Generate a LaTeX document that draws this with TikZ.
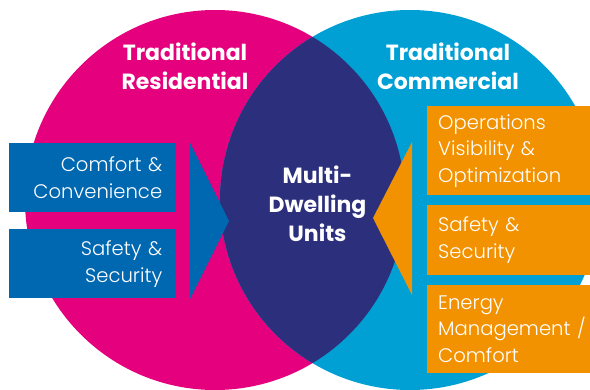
\documentclass[tikz,border=0pt]{standalone}
\usepackage{fontspec}
\setmainfont{Poppins}
\newfontfamily\lightfont{Poppins Light}
\definecolor{respink}{HTML}{E5007D}
\definecolor{comcyan}{HTML}{009FD4}
\definecolor{mdunavy}{HTML}{2B2F7C}
\definecolor{featblue}{HTML}{0067B1}
\definecolor{featorange}{HTML}{F39200}
\begin{document}
\begin{tikzpicture}[x=1pt,y=-1pt,
  ring/.style={circle, minimum size=380pt, inner sep=0pt},
  heading/.style={text=white, align=center, inner sep=0pt,
    font=\bfseries\fontsize{22}{29}\selectfont},
  featleft/.style={rectangle, fill=featblue, anchor=north west,
    minimum width=167pt, minimum height=#1, inner xsep=14pt, inner ysep=0pt,
    text width=139pt, align=right, text=white,
    font=\lightfont\fontsize{19.6}{27}\selectfont},
  featright/.style={rectangle, fill=featorange, anchor=north west,
    minimum width=163pt, minimum height=#1, inner xsep=11pt, inner ysep=0pt,
    text width=175pt, align=left, text=white,
    font=\lightfont\fontsize{19.6}{26.5}\selectfont}]
\useasboundingbox (0,0) rectangle (590,390);
\clip (0,0) rectangle (590,390);

% the two overlapping markets
\node[ring, fill=respink] (res) at (215,200) {};
\node[ring, fill=comcyan] (com) at (410,200) {};
\begin{scope}
  \clip (res.center) circle (190pt);
  \fill[mdunavy] (com.center) circle (190pt);
\end{scope}

% headings
\node[heading] (tres) at (185,66) {Traditional\\Residential};
\node[heading] (tcom) at (448,66) {Traditional\\Commercial};
\node[heading] (mdu) at (317.5,204) {Multi-\\Dwelling\\Units};

% residential features
\node[featleft=69pt] (comfort) at (9,143) {Comfort \&\\Convenience};
\node[featleft=69pt] (safeL) at (9,229) {Safety \&\\Security};
\coordinate (lt) at (190,143);
\coordinate (lb) at (190,299);
\coordinate (ltip) at (229,221);
\fill[featblue] (lt) -- (ltip) -- (lb) -- cycle;

% commercial features (the boxes run off the right edge)
\node[featright=89pt] (ops) at (427,106) {Operations\\Visibility \&\\Optimization};
\node[featright=70pt] (safeR) at (427,205) {Safety \&\\Security};
\node[featright=88pt] (energy) at (427,285) {Energy\\Management /\\Comfort};
\coordinate (rt) at (412,142);
\coordinate (rb) at (412,295);
\coordinate (rtip) at (373,218);
\fill[featorange] (rt) -- (rtip) -- (rb) -- cycle;
\end{tikzpicture}
\end{document}
